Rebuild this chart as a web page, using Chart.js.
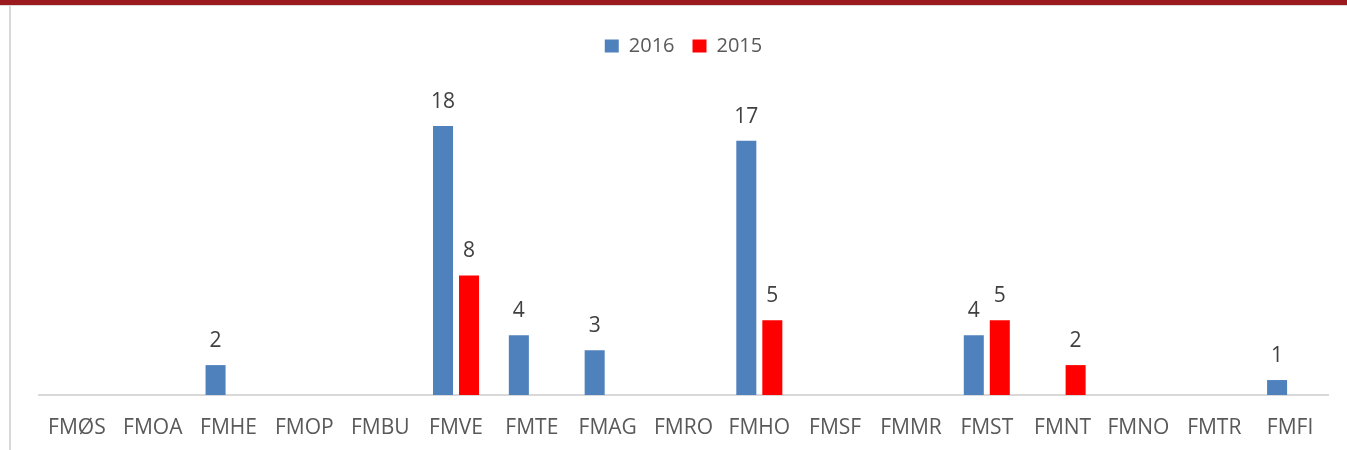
<!DOCTYPE html>
<html>
<head>
<meta charset="utf-8">
<script src="https://cdn.jsdelivr.net/npm/chart.js@4/dist/chart.umd.min.js"></script>
<style>
  html, body { margin: 0; padding: 0; background: #fff; }
  #band { position: absolute; left: 0; top: 0; width: 1347px; height: 5px; background: #9b1a1d; border-bottom: 1px solid #d9d9d9; }
  #edge { position: absolute; left: 9px; top: 6px; width: 2px; height: 444px; background: #d9d9d9; }
  #wrap { position: absolute; left: 0; top: 0; width: 1347px; height: 450px; }
</style>
</head>
<body>
<div id="band"></div>
<div id="edge"></div>
<div id="wrap"><canvas id="chart"></canvas></div>
<script>
// categories (units) and counts per year
const categories = ["FMØS", "FMOA", "FMHE", "FMOP", "FMBU", "FMVE", "FMTE", "FMAG", "FMRO",
                    "FMHO", "FMSF", "FMMR", "FMST", "FMNT", "FMNO", "FMTR", "FMFI"];
const values2016 = [0, 0, 2, 0, 0, 18, 4, 3, 0, 17, 0, 0, 4, 0, 0, 0, 1];
const values2015 = [0, 0, 0, 0, 0, 8, 0, 0, 0, 5, 0, 0, 5, 2, 0, 0, 0];

const FONT = "'Open Sans', sans-serif";

// draws the value above every non-zero bar
const valueLabels = {
  id: "valueLabels",
  afterDatasetsDraw(chart) {
    const c = chart.ctx;
    c.save();
    c.font = "21px " + FONT;
    c.fillStyle = "#404040";
    c.textAlign = "center";
    c.textBaseline = "alphabetic";
    chart.data.datasets.forEach((ds, i) => {
      chart.getDatasetMeta(i).data.forEach((bar, j) => {
        const v = ds.data[j];
        if (!v) return;
        c.fillText(String(v), bar.x, bar.y - 18);
      });
    });
    c.restore();
  }
};

// extra room between the legend and the plot
const legendGap = {
  id: "legendGap",
  beforeInit(chart) {
    const fit = chart.legend.fit;
    chart.legend.fit = function () {
      fit.call(this);
      this.height += 30;
    };
  }
};

new Chart(document.getElementById("chart"), {
  type: "bar",
  data: {
    labels: categories,
    datasets: [
      { label: "2016", data: values2016, backgroundColor: "#4f81bd",
        categoryPercentage: 0.686, barPercentage: 0.77 },
      { label: "2015", data: values2015, backgroundColor: "#ff0000",
        categoryPercentage: 0.686, barPercentage: 0.77 }
    ]
  },
  options: {
    responsive: true,
    maintainAspectRatio: false,
    animation: false,
    layout: { padding: { left: 39, right: 19, top: 18, bottom: 0 } },
    plugins: {
      legend: {
        display: true,
        position: "top",
        labels: {
          boxWidth: 14, boxHeight: 13, padding: 18,
          color: "#595959",
          font: { family: FONT, size: 20 }
        }
      },
      tooltip: { enabled: false }
    },
    scales: {
      x: {
        grid: { display: false },
        border: { display: true, color: "#d9d9d9", width: 2 },
        ticks: { color: "#595959", padding: 12, font: { family: FONT, size: 21 }, maxRotation: 0 },
        afterFit(scale) { scale.height = 55; }
      },
      y: {
        display: false,
        min: 0,
        max: 20
      }
    }
  },
  plugins: [valueLabels, legendGap]
});
</script>
</body>
</html>
